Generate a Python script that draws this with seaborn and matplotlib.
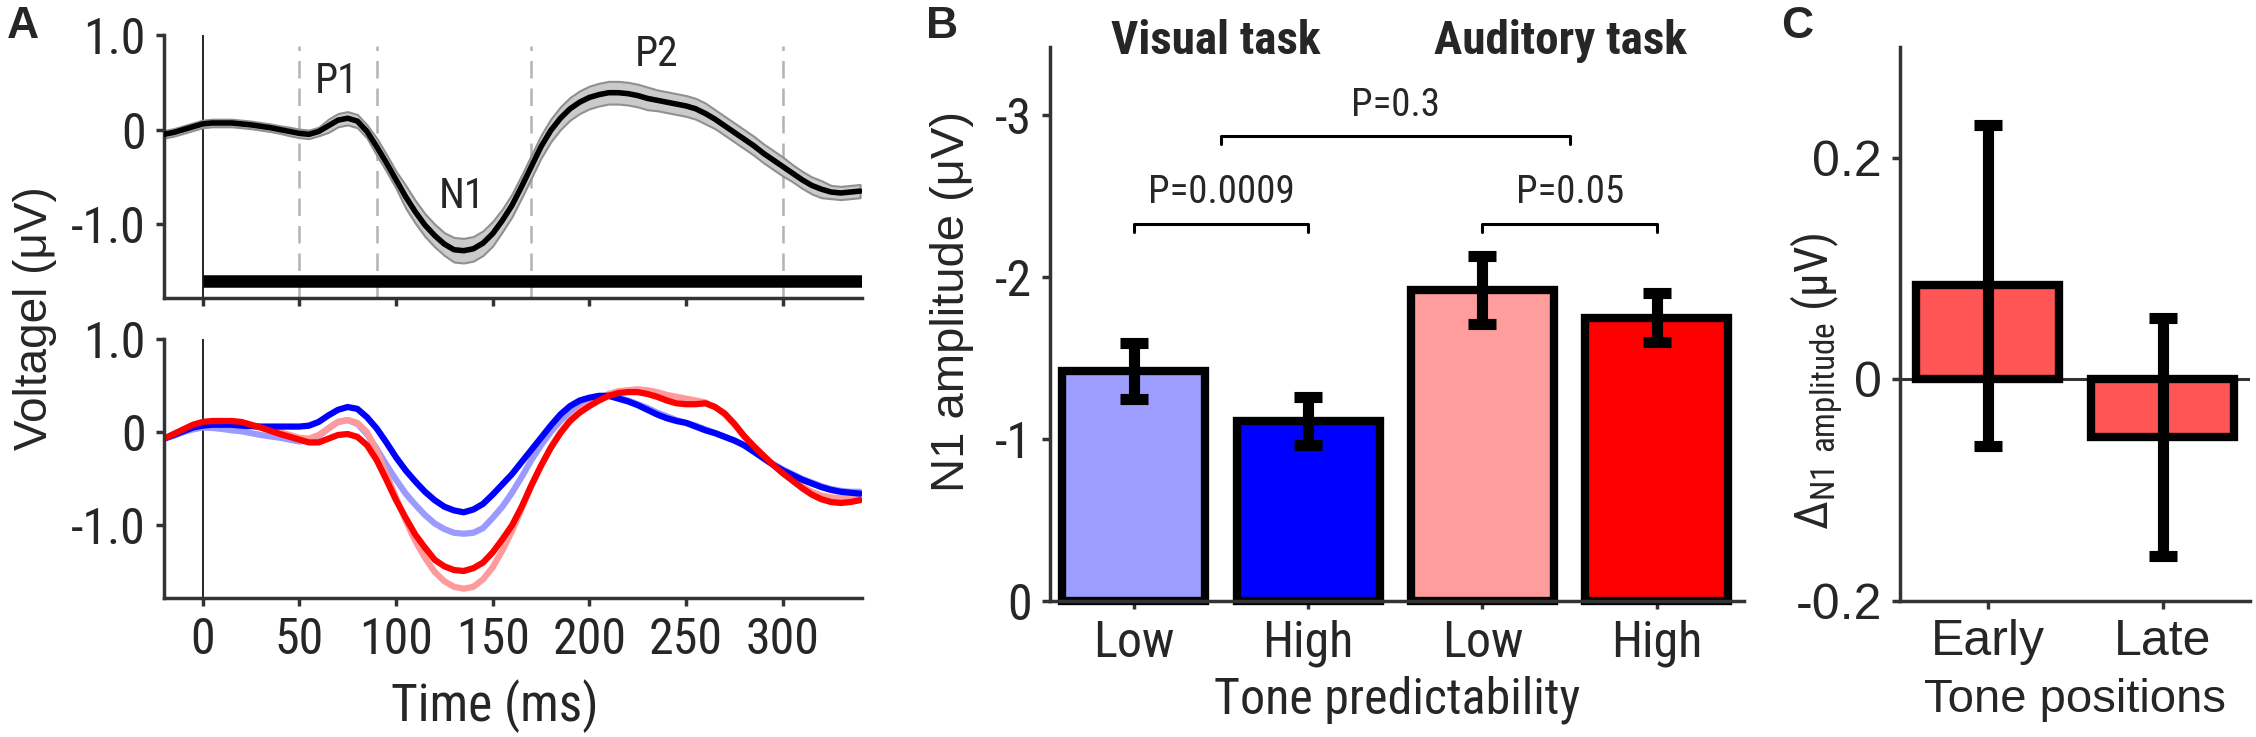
import numpy as np
import pandas as pd
import matplotlib
matplotlib.use("Agg")
import matplotlib.pyplot as plt
import matplotlib.font_manager as fm
import seaborn as sns

sns.set_style("ticks")

# 좁은 글꼴 고르기 (없으면 DejaVu condensed)
names = {f.name for f in fm.fontManager.ttflist}
NARROW = next((n for n in ["Liberation Sans Narrow", "Arial Narrow", "Nimbus Sans Narrow",
                           "Roboto Condensed", "Open Sans Condensed"] if n in names), None)
STRETCH = "normal"
if NARROW is None:
    NARROW = "DejaVu Sans"
    STRETCH = "condensed"
REG = "Liberation Sans" if "Liberation Sans" in names else "DejaVu Sans"
plt.rcParams["font.family"] = [NARROW, "DejaVu Sans"]
plt.rcParams["font.stretch"] = STRETCH
plt.rcParams["mathtext.fontset"] = "custom"
plt.rcParams["mathtext.rm"] = NARROW
plt.rcParams["axes.unicode_minus"] = False

# ── data ─────────────────────────────────────────────
time_ms = list(range(-20, 341, 5))
grand_mean = [-0.05, -0.03, 0.0, 0.03,
              0.06, 0.07, 0.07, 0.07, 0.06, 0.05, 0.035, 0.02, 0.0, -0.02,
              -0.04, -0.05, -0.02, 0.04, 0.10, 0.12, 0.09, -0.02, -0.18, -0.35,
              -0.53, -0.71, -0.87, -1.01, -1.12, -1.21, -1.27, -1.28, -1.26, -1.20,
              -1.10, -0.96, -0.80, -0.60, -0.39, -0.18, -0.01, 0.12, 0.22, 0.29,
              0.34, 0.37, 0.39, 0.39, 0.38, 0.36, 0.33, 0.31, 0.29, 0.27,
              0.25, 0.22, 0.17, 0.11, 0.04, -0.03, -0.10, -0.17, -0.25, -0.32,
              -0.39, -0.46, -0.53, -0.59, -0.63, -0.66, -0.67, -0.66, -0.65]
grand_sem = [0.04, 0.04, 0.04, 0.04,
             0.04, 0.04, 0.04, 0.04, 0.04, 0.04, 0.04, 0.04, 0.04, 0.045,
             0.045, 0.045, 0.045, 0.07, 0.07, 0.07, 0.07, 0.07, 0.09, 0.09,
             0.09, 0.12, 0.12, 0.12, 0.12, 0.12, 0.13, 0.13, 0.13, 0.13,
             0.13, 0.12, 0.12, 0.12, 0.12, 0.12, 0.12, 0.12, 0.12, 0.12,
             0.12, 0.12, 0.12, 0.12, 0.12, 0.12, 0.12, 0.11, 0.11, 0.11,
             0.11, 0.11, 0.11, 0.10, 0.10, 0.10, 0.10, 0.10, 0.10, 0.10,
             0.10, 0.09, 0.09, 0.09, 0.09, 0.07, 0.07, 0.07, 0.07]

low_visual = [-0.07, -0.04, 0.0, 0.03,
              0.05, 0.045, 0.035, 0.02, 0.01, -0.01, -0.03, -0.045, -0.06, -0.08,
              -0.10, -0.09, -0.04, 0.04, 0.11, 0.13, 0.09, -0.02, -0.18, -0.35,
              -0.51, -0.66, -0.78, -0.89, -0.98, -1.04, -1.08, -1.09, -1.08, -1.03,
              -0.92, -0.80, -0.65, -0.48, -0.30, -0.14, 0.0, 0.12, 0.22, 0.30,
              0.35, 0.38, 0.39, 0.37, 0.34, 0.30, 0.26, 0.21, 0.17, 0.13,
              0.10, 0.07, 0.03, -0.01, -0.05, -0.09, -0.14, -0.20, -0.27, -0.34,
              -0.40, -0.45, -0.50, -0.54, -0.58, -0.61, -0.63, -0.64, -0.64]
high_visual = [-0.07, -0.03, 0.01, 0.05,
               0.07, 0.08, 0.08, 0.08, 0.07, 0.065, 0.06, 0.06, 0.06, 0.06,
               0.06, 0.07, 0.11, 0.18, 0.24, 0.27, 0.25, 0.16, 0.04, -0.11,
               -0.27, -0.41, -0.53, -0.64, -0.73, -0.80, -0.84, -0.86, -0.83, -0.77,
               -0.67, -0.56, -0.45, -0.32, -0.19, -0.06, 0.07, 0.19, 0.28, 0.34,
               0.37, 0.39, 0.39, 0.36, 0.33, 0.29, 0.24, 0.19, 0.15, 0.12,
               0.10, 0.06, 0.02, -0.01, -0.05, -0.09, -0.14, -0.21, -0.28, -0.35,
               -0.41, -0.46, -0.51, -0.55, -0.59, -0.62, -0.64, -0.65, -0.66]
low_auditory = [-0.07, -0.02, 0.03, 0.07,
                0.10, 0.11, 0.11, 0.10, 0.09, 0.07, 0.05, 0.02, 0.0, -0.03,
                -0.06, -0.07, -0.03, 0.04, 0.11, 0.13, 0.10, 0.0, -0.20, -0.45,
                -0.70, -0.95, -1.17, -1.35, -1.50, -1.60, -1.66, -1.68, -1.66, -1.58,
                -1.45, -1.27, -1.06, -0.82, -0.58, -0.36, -0.16, 0.0, 0.13, 0.23,
                0.30, 0.36, 0.41, 0.44, 0.45, 0.46, 0.45, 0.43, 0.40, 0.38,
                0.36, 0.34, 0.32, 0.27, 0.19, 0.08, -0.05, -0.15, -0.26, -0.35,
                -0.44, -0.51, -0.58, -0.64, -0.68, -0.70, -0.71, -0.70, -0.68]
high_auditory = [-0.07, -0.02, 0.03, 0.08,
                 0.11, 0.12, 0.12, 0.12, 0.11, 0.08, 0.05, 0.015, -0.02, -0.05,
                 -0.08, -0.11, -0.11, -0.07, -0.03, -0.02, -0.05, -0.14, -0.30, -0.51,
                 -0.73, -0.92, -1.10, -1.24, -1.37, -1.44, -1.48, -1.49, -1.46, -1.40,
                 -1.29, -1.15, -1.00, -0.80, -0.57, -0.36, -0.17, -0.01, 0.12, 0.21,
                 0.28, 0.34, 0.39, 0.42, 0.43, 0.43, 0.41, 0.38, 0.34, 0.31,
                 0.30, 0.30, 0.31, 0.27, 0.20, 0.09, -0.04, -0.15, -0.25, -0.35,
                 -0.44, -0.52, -0.60, -0.67, -0.72, -0.75, -0.76, -0.75, -0.73]

window_bounds = [50, 90, 170, 300]
components = ["P1", "N1", "P2"]
comp_time = [69, 134, 235]
comp_amp = [0.51, -0.71, 0.79]
sig_window = [0, 341]

bar_conds = ["Visual Low", "Visual High", "Auditory Low", "Auditory High"]
bar_ticks = ["Low", "High", "Low", "High"]
n1_mean = [-1.42, -1.11, -1.92, -1.75]
n1_sem = [0.17, 0.15, 0.21, 0.15]
p_labels = ["P=0.0009", "P=0.05", "P=0.3"]
p_pairs = [(0, 1), (2, 3), (0.5, 2.5)]
p_heights = [-2.33, -2.33, -2.87]

positions = ["Early", "Late"]
delta_mean = [0.085, -0.052]
delta_sem = [0.145, 0.107]

COND_COLORS = {"Low visual": "#9a9aff", "Low auditory": "#ff9a9a",
               "High visual": "#0000ff", "High auditory": "#ff0000"}
BAR_COLORS = {"Visual Low": "#9d9dff", "Visual High": "#0000ff",
              "Auditory Low": "#ff9d9d", "Auditory High": "#ff0000"}

SPINE = "#333333"
W, H = 2256, 737


def style_axes(ax, size=36):
    sns.despine(ax=ax)
    for s in ["left", "bottom"]:
        ax.spines[s].set_linewidth(2.5)
        ax.spines[s].set_color(SPINE)
    ax.tick_params(width=2.5, length=6, color=SPINE, labelsize=size, pad=7)


def center_labels(ax, xpos, ypos):
    if xpos is not None:
        ax.xaxis.set_label_coords(*xpos)
        ax.xaxis.label.set_va("center")
    if ypos is not None:
        ax.yaxis.set_label_coords(*ypos)
        ax.yaxis.label.set_va("center")


def frac(left, top, right, bottom):
    return [left / W, 1 - bottom / H, (right - left) / W, (bottom - top) / H]


fig = plt.figure(figsize=(W / 100, H / 100), dpi=100)

# ── A: grand average ─────────────────────────────────
ax1 = fig.add_axes(frac(164, 35, 862, 298))
top_df = pd.DataFrame({"time": time_ms, "amp": grand_mean, "sem": grand_sem})
ax1.fill_between(top_df["time"], top_df["amp"] - top_df["sem"], top_df["amp"] + top_df["sem"],
                 facecolor="#cacaca", edgecolor="#909090", lw=1.5, zorder=2)
sns.lineplot(data=top_df, x="time", y="amp", color="black", lw=4, ax=ax1, zorder=3,
             solid_joinstyle="round")
ax1.vlines(window_bounds, -1.78, 0.88, colors="#b3b3b3", lw=1.8, linestyles=(0, (7, 4)), zorder=1)
ax1.axvline(0, color="black", lw=1.2, zorder=1)
ax1.hlines(-1.6, sig_window[0], sig_window[1], colors="black", lw=9, zorder=4)
for name, t, a in zip(components, comp_time, comp_amp):
    ax1.text(t, a, name, fontsize=30, ha="center", va="center")
ax1.set_xlim(-20, 341)
ax1.set_ylim(-1.78, 1.0)
ax1.set_xticks(range(0, 301, 50))
ax1.set_xticklabels([])
ax1.set_yticks([-1, 0, 1])
ax1.set_yticklabels(["-1.0", "0", "1.0"])
ax1.set_xlabel("")
ax1.set_ylabel("")
style_axes(ax1)

# ── A: conditions ────────────────────────────────────
ax2 = fig.add_axes(frac(164, 339, 862, 598))
cond_df = pd.concat([
    pd.DataFrame({"time": time_ms, "amp": vals, "cond": name})
    for name, vals in [("Low visual", low_visual), ("Low auditory", low_auditory),
                       ("High visual", high_visual), ("High auditory", high_auditory)]
])
ax2.axvline(0, color="black", lw=1.2, zorder=1)
sns.lineplot(data=cond_df, x="time", y="amp", hue="cond", palette=COND_COLORS,
             hue_order=list(COND_COLORS.keys()), lw=4.5, legend=False, ax=ax2,
             solid_joinstyle="round")
ax2.set_xlim(-20, 341)
ax2.set_ylim(-1.78, 1.0)
ax2.set_xticks(range(0, 301, 50))
ax2.set_yticks([-1, 0, 1])
ax2.set_yticklabels(["-1.0", "0", "1.0"])
ax2.set_ylabel("")
ax2.set_xlabel("Time (ms)", fontsize=37)
style_axes(ax2)
center_labels(ax2, (0.474, -0.417), None)
fig.text(35 / W, 1 - 318 / H, "Voltagel (μV)", rotation=90, fontsize=33,
         family=[REG, "DejaVu Sans"], stretch="normal", ha="center", va="center")

# ── B: N1 amplitude bars ─────────────────────────────
ax3 = fig.add_axes(frac(1050, 47, 1744, 601))
sns.barplot(x=bar_conds, y=n1_mean, hue=bar_conds, palette=BAR_COLORS, saturation=1,
            width=0.82, edgecolor="black", linewidth=6, errorbar=None, legend=False, ax=ax3)
ax3.errorbar(range(len(n1_mean)), n1_mean, yerr=n1_sem, fmt="none", ecolor="black",
             elinewidth=8, capsize=10, capthick=8, zorder=5)
for p in ax3.patches:
    p.set_clip_on(False)
for lab, (a, b), yb in zip(p_labels, p_pairs, p_heights):
    ax3.plot([a, a, b, b], [yb + 0.05, yb, yb, yb + 0.05], color="black", lw=2.2)
    ax3.text((a + b) / 2, yb - 0.19, lab, fontsize=28, ha="center", va="center")
ax3.text(0.47, -3.46, "Visual task", fontsize=34, weight="bold", ha="center", va="center")
ax3.text(2.45, -3.46, "Auditory task", fontsize=34, weight="bold", ha="center", va="center")
ax3.set_xlim(-0.48, 3.5)
ax3.set_ylim(0, -3.42)
ax3.set_yticks([0, -1, -2, -3])
ax3.set_yticklabels(["0", "-1", "-2", "-3"])
ax3.set_xticks(range(4))
ax3.set_xticklabels(bar_ticks)
ax3.set_xlabel("Tone predictability", fontsize=36)
ax3.set_ylabel("N1 amplitude (μV)", fontsize=34, family=[REG, "DejaVu Sans"], stretch="normal")
style_axes(ax3)
center_labels(ax3, (0.5, -0.179), (-0.141, 0.54))

# ── C: difference bars ───────────────────────────────
ax4 = fig.add_axes(frac(1900, 47, 2250, 601))
ax4.axhline(0, color=SPINE, lw=2.2, zorder=0)
sns.barplot(x=positions, y=delta_mean, color="#ff5555", saturation=1, width=0.82,
            edgecolor="black", linewidth=6, errorbar=None, ax=ax4)
ax4.errorbar(range(len(delta_mean)), delta_mean, yerr=delta_sem, fmt="none", ecolor="black",
             elinewidth=8, capsize=10, capthick=8, zorder=5)
ax4.set_xlim(-0.5, 1.5)
ax4.set_ylim(-0.2, 0.3)
ax4.set_yticks([-0.2, 0, 0.2])
ax4.set_yticklabels(["-0.2", "0", "0.2"])
ax4.set_xlabel("Tone positions", fontsize=34, family=[REG, "DejaVu Sans"], stretch="normal")
ax4.set_ylabel(r"$\Delta_{\mathrm{N1\ amplitude}}$ (μV)", fontsize=34)
style_axes(ax4, 36)
center_labels(ax4, (0.5, -0.179), (-0.237, 0.397))
for lab in ax4.get_xticklabels() + ax4.get_yticklabels():
    lab.set_family([REG, "DejaVu Sans"])
    lab.set_stretch("normal")

# ── panel letters ────────────────────────────────────
for letter, x in [("A", 23), ("B", 942), ("C", 1797)]:
    fig.text(x / W, 1 - 26 / H, letter, fontsize=32, weight="bold", stretch="normal",
             family=[REG, "DejaVu Sans"], ha="center", va="center")

fig.savefig("out.png", dpi=100)
